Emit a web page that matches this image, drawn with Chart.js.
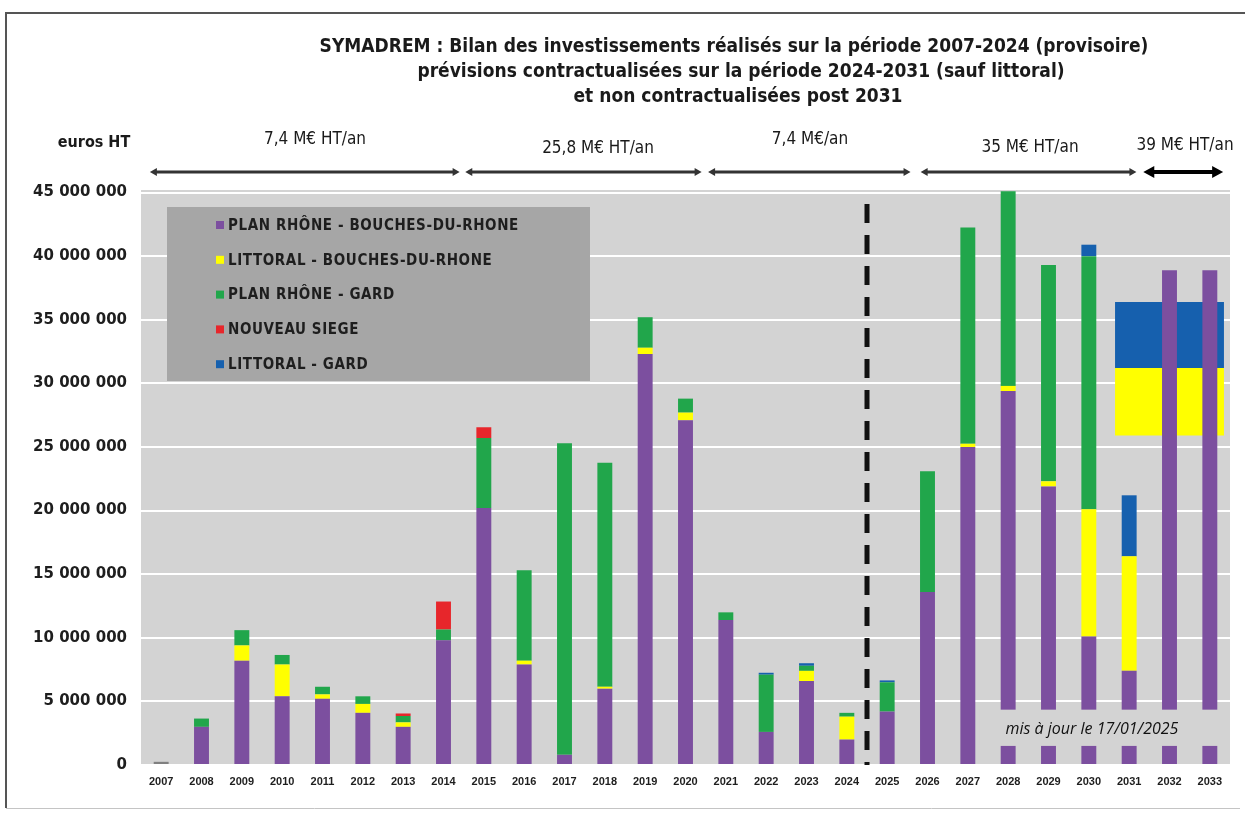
<!DOCTYPE html>
<html>
<head>
<meta charset="utf-8">
<script src="https://cdn.jsdelivr.net/npm/chart.js@4/dist/chart.umd.min.js"></script>
<style>
  html, body { margin: 0; background: #fff; }
</style>
</head>
<body>
<canvas id="chart" width="1245" height="814"></canvas>
<script>
// values in millions of euros HT
const years = ['2007','2008','2009','2010','2011','2012','2013','2014','2015','2016','2017','2018','2019','2020',
  '2021','2022','2023','2024','2025','2026','2027','2028','2029','2030','2031','2032','2033'];
const planRhoneBdr  = [0.25,3.0,8.2,5.4,5.2,4.1,3.0,9.8,20.2,7.9,0.8,6.0,32.3,27.1,11.4,2.6,6.6,2.0,4.2,13.6,25.0,29.4,21.9,10.1,7.4,38.9,38.9];
const littoralBdr   = [0,0,1.2,2.5,0.35,0.7,0.35,0,0,0.3,0,0.15,0.5,0.6,0,0,0.8,1.8,0,0,0.25,0.4,0.4,10.0,9.0,0,0];
const planRhoneGard = [0,0.65,1.2,0.75,0.6,0.6,0.5,0.85,5.5,7.1,24.5,17.6,2.4,1.1,0.6,4.5,0.4,0.3,2.3,9.5,17.0,15.3,17.0,19.9,0,0,0];
const nouveauSiege  = [0,0,0,0,0,0,0.2,2.2,0.85,0,0,0,0,0,0,0,0,0,0,0,0,0,0,0,0,0,0];
const littoralGard  = [0,0,0,0,0,0,0,0,0,0,0,0,0,0,0,0.15,0.2,0,0.15,0,0,0,0,0.9,4.8,0,0];
// littoral post 2031 (block over 2032-2033)
const post2031Year = '2032';
const post2031Bdr  = [25.9, 31.2];
const post2031Gard = [31.2, 36.4];

const seriesNames = ['PLAN RHÔNE - BOUCHES-DU-RHONE','LITTORAL - BOUCHES-DU-RHONE','PLAN RHÔNE - GARD','NOUVEAU SIEGE','LITTORAL - GARD'];
const yTicks = [0,5,10,15,20,25,30,35,40,45];
const periodLabels = ['7,4 M€ HT/an','25,8 M€ HT/an','7,4 M€/an','35 M€ HT/an','39 M€ HT/an'];
const updateNote = 'mis à jour le 17/01/2025';
const titleLines = [
  'SYMADREM : Bilan des investissements réalisés sur la période 2007-2024 (provisoire)',
  'prévisions contractualisées sur la période 2024-2031 (sauf littoral)',
  'et non contractualisées post 2031'
];

const M = 1e6;
const PURPLE = '#7c4f9f', YELLOW = '#ffff00', GREEN = '#21a64b', RED = '#e7262b', BLUE = '#1660ae';
const PLOT_BG = '#d3d3d3';

const fmt = v => String(v).replace(/\B(?=(\d{3})+(?!\d))/g, ' ');
const toEuro = arr => arr.map(v => v * M);
const onlyAt = (year, range) => years.map(y => y === year ? [range[0] * M, range[1] * M] : null);

// period arrows: [from, to] in category index units
const periodSpans = [[-0.28, 7.4], [7.54, 13.4], [13.56, 18.58], [18.83, 24.18], [24.35, 26.33]];
const periodLabelPos = [[315, 140], [598, 149], [810, 140], [1030, 148], [1185, 146]];

const decor = {
  id: 'decor',
  beforeDraw(chart) {
    const { ctx, chartArea: a } = chart;
    ctx.save();
    ctx.fillStyle = '#fff';
    ctx.fillRect(0, 0, chart.width, chart.height);
    ctx.fillStyle = PLOT_BG;
    ctx.fillRect(a.left, a.top, a.right - a.left, a.bottom - a.top);
    // frame of the scanned page
    ctx.strokeStyle = '#555';
    ctx.lineWidth = 2;
    ctx.beginPath();
    ctx.moveTo(6, 808); ctx.lineTo(6, 13); ctx.lineTo(1245, 13);
    ctx.stroke();
    ctx.strokeStyle = '#c4c4c4';
    ctx.lineWidth = 1;
    ctx.beginPath();
    ctx.moveTo(6, 808.5); ctx.lineTo(1240, 808.5);
    ctx.stroke();
    ctx.restore();
  },
  afterDatasetsDraw(chart) {
    const { ctx, chartArea: a, scales: { x, y } } = chart;
    ctx.save();

    // legend box
    ctx.fillStyle = '#a6a6a6';
    ctx.fillRect(167, 207, 423, 174);
    const colors = [PURPLE, YELLOW, GREEN, RED, BLUE];
    ctx.font = 'bold 15px "DejaVu Sans Condensed", "DejaVu Sans"';
    ctx.letterSpacing = '0.6px';
    ctx.textBaseline = 'middle';
    ctx.textAlign = 'left';
    seriesNames.forEach((name, i) => {
      const cy = 225 + i * 34.8;
      ctx.fillStyle = colors[i];
      ctx.fillRect(216, cy - 4, 8, 8);
      ctx.fillStyle = '#1e1e1e';
      ctx.fillText(name, 228, cy + 1);
    });
    ctx.letterSpacing = '0px';

    // note box (hides the bars behind it)
    const nx = x.getPixelForValue(20.3);
    const ny1 = y.getPixelForValue(4.35 * M), ny2 = y.getPixelForValue(1.5 * M);
    ctx.fillStyle = PLOT_BG;
    ctx.fillRect(nx, ny1, a.right - nx, ny2 - ny1);
    ctx.fillStyle = '#111';
    ctx.font = 'italic 16px "Open Sans"';
    ctx.textAlign = 'center';
    ctx.fillText(updateNote, 1092, 729);

    // dashed separator between 2024 and 2025
    const dx = x.getPixelForValue(17.5);
    ctx.strokeStyle = '#111';
    ctx.lineWidth = 5;
    ctx.setLineDash([19, 12]);
    ctx.beginPath();
    ctx.moveTo(dx, a.top + 14);
    ctx.lineTo(dx, a.bottom);
    ctx.stroke();
    ctx.setLineDash([]);
    ctx.restore();
  },
  afterDraw(chart) {
    const { ctx, scales: { x } } = chart;
    ctx.save();
    ctx.fillStyle = '#1a1a1a';
    ctx.textAlign = 'center';
    ctx.textBaseline = 'middle';
    ctx.font = 'bold 19px "DejaVu Sans Condensed", "DejaVu Sans"';
    ctx.fillText(titleLines[0], 734, 47);
    ctx.fillText(titleLines[1], 741, 72);
    ctx.fillText(titleLines[2], 738, 97);

    ctx.font = 'bold 16px "DejaVu Sans Condensed", "DejaVu Sans"';
    ctx.fillText('euros HT', 94, 143);

    // period arrows
    ctx.font = '17px "DejaVu Sans Condensed", "DejaVu Sans"';
    periodSpans.forEach((span, i) => {
      const x1 = x.getPixelForValue(span[0]);
      const x2 = x.getPixelForValue(span[1]);
      const last = i === periodSpans.length - 1;
      const yy = 172;
      const head = last ? 11 : 7;
      const half = last ? 6 : 4;
      ctx.fillStyle = last ? '#000' : '#333';
      ctx.strokeStyle = ctx.fillStyle;
      ctx.lineWidth = last ? 4 : 3;
      ctx.beginPath();
      ctx.moveTo(x1 + head - 1, yy); ctx.lineTo(x2 - head + 1, yy);
      ctx.stroke();
      ctx.beginPath();
      ctx.moveTo(x1, yy); ctx.lineTo(x1 + head, yy - half); ctx.lineTo(x1 + head, yy + half); ctx.closePath();
      ctx.moveTo(x2, yy); ctx.lineTo(x2 - head, yy - half); ctx.lineTo(x2 - head, yy + half); ctx.closePath();
      ctx.fill();
      ctx.fillStyle = '#1a1a1a';
      ctx.fillText(periodLabels[i], periodLabelPos[i][0], periodLabelPos[i][1]);
    });
    ctx.restore();
  }
};

const barBase = { barPercentage: 0.37, categoryPercentage: 1, stack: 'main', borderWidth: 0 };

new Chart(document.getElementById('chart'), {
  type: 'bar',
  data: {
    labels: years,
    datasets: [
      { ...barBase, label: seriesNames[0], data: toEuro(planRhoneBdr),
        backgroundColor: years.map(y => y === '2007' ? '#808080' : PURPLE) },
      { ...barBase, label: seriesNames[1], data: toEuro(littoralBdr), backgroundColor: YELLOW },
      { ...barBase, label: seriesNames[2], data: toEuro(planRhoneGard), backgroundColor: GREEN },
      { ...barBase, label: seriesNames[3], data: toEuro(nouveauSiege), backgroundColor: RED },
      { ...barBase, label: seriesNames[4], data: toEuro(littoralGard), backgroundColor: BLUE },
      { label: 'post 2031 BdR', data: onlyAt(post2031Year, post2031Bdr), backgroundColor: YELLOW,
        stack: 'post', grouped: false, barPercentage: 2.7, categoryPercentage: 1 },
      { label: 'post 2031 Gard', data: onlyAt(post2031Year, post2031Gard), backgroundColor: BLUE,
        stack: 'post2', grouped: false, barPercentage: 2.7, categoryPercentage: 1 }
    ]
  },
  options: {
    responsive: false,
    animation: false,
    layout: { padding: { top: 190, left: 8, right: 15, bottom: 4 } },
    plugins: { legend: { display: false }, tooltip: { enabled: false }, title: { display: false } },
    scales: {
      x: {
        stacked: true,
        grid: { display: false },
        border: { display: false },
        ticks: { color: '#1e1e1e', font: { family: 'Liberation Sans', weight: 'bold', size: 11 }, padding: 2, maxRotation: 0, autoSkip: false },
        afterFit: s => { s.height = 45; }
      },
      y: {
        stacked: true,
        min: 0,
        max: 45.2 * M,
        afterBuildTicks: s => { s.ticks = yTicks.map(v => ({ value: v * M })); },
        grid: { color: '#ffffff', lineWidth: 2, drawTicks: false },
        border: { display: false },
        ticks: { color: '#1e1e1e', font: { family: 'DejaVu Sans', weight: 'bold', size: 15 }, padding: 14,
          callback: v => fmt(v) },
        afterFit: s => { s.width = 133; }
      }
    }
  },
  plugins: [decor]
});
</script>
</body>
</html>
